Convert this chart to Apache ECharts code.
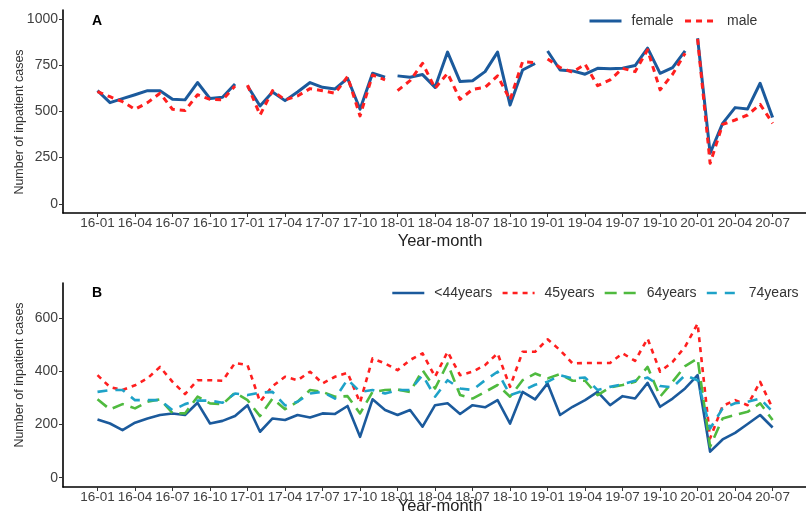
<!DOCTYPE html>
<html>
<head>
<meta charset="utf-8">
<script src="https://cdn.jsdelivr.net/npm/echarts@6/dist/echarts.min.js"></script>
<style>
  html, body { margin: 0; padding: 0; background: #fff; }
  #chart { width: 806px; height: 522px; }
</style>
</head>
<body>
<div id="chart"></div>
<script>
// Monthly inpatient cases, Jan 2016 – Jul 2020
const months = [
  '16-01','16-02','16-03','16-04','16-05','16-06','16-07','16-08','16-09','16-10','16-11','16-12',
  '17-01','17-02','17-03','17-04','17-05','17-06','17-07','17-08','17-09','17-10','17-11','17-12',
  '18-01','18-02','18-03','18-04','18-05','18-06','18-07','18-08','18-09','18-10','18-11','18-12',
  '19-01','19-02','19-03','19-04','19-05','19-06','19-07','19-08','19-09','19-10','19-11','19-12',
  '20-01','20-02','20-03','20-04','20-05','20-06','20-07'
];
// month indices that carry a tick label
const tickMonths = [0, 3, 6, 9, 12, 15, 18, 21, 24, 27, 30, 33, 36, 39, 42, 45, 48, 51, 54];

// Panel A: by sex
const female = [
  613, 548, 570, 591, 613, 613, 566, 563, 657, 570, 577, 649,
  638, 530, 606, 559, 606, 657, 631, 622, 680, 512, 707, 686,
  693, 686, 700, 631, 822, 662, 667, 716, 822, 535, 725, 760,
  828, 725, 720, 702, 734, 731, 734, 749, 843, 707, 738, 828,
  897, 274, 436, 521, 514, 653, 467
];
const male = [
  608, 580, 553, 512, 548, 599, 512, 505, 591, 566, 563, 638,
  643, 481, 613, 563, 584, 624, 613, 599, 689, 476, 698, 671,
  613, 667, 761, 626, 707, 566, 620, 631, 693, 563, 770, 765,
  785, 738, 713, 756, 640, 671, 734, 716, 834, 617, 702, 816,
  893, 219, 430, 454, 481, 539, 436
];

// Panel B: by age group
const age44 = [
  219, 204, 179, 207, 223, 236, 242, 236, 282, 204, 214, 232,
  273, 173, 223, 217, 236, 227, 242, 240, 270, 154, 295, 255,
  236, 255, 192, 273, 280, 240, 273, 265, 292, 204, 323, 295,
  355, 236, 267, 292, 323, 273, 307, 298, 357, 267, 298, 336,
  386, 98, 144, 169, 202, 236, 189
];
const age45 = [
  386, 341, 330, 348, 374, 417, 361, 315, 367, 367, 365, 432,
  424, 286, 345, 380, 367, 399, 355, 380, 395, 283, 449, 430,
  405, 443, 468, 380, 474, 386, 399, 424, 468, 342, 474, 474,
  521, 480, 430, 432, 432, 432, 468, 440, 524, 399, 436, 493,
  580, 148, 270, 292, 273, 361, 261
];
const age64 = [
  295, 257, 277, 261, 286, 295, 244, 242, 305, 280, 277, 320,
  292, 232, 298, 258, 286, 330, 323, 305, 307, 242, 323, 330,
  332, 323, 405, 336, 430, 311, 298, 323, 349, 305, 367, 392,
  374, 390, 365, 365, 311, 340, 349, 361, 417, 305, 361, 420,
  449, 117, 223, 236, 248, 280, 217
];
const age74 = [
  323, 330, 330, 292, 292, 292, 254, 277, 290, 290, 282, 317,
  311, 320, 323, 272, 286, 317, 323, 298, 370, 323, 330, 317,
  330, 330, 386, 305, 367, 336, 330, 367, 399, 311, 327, 350,
  361, 386, 374, 377, 330, 342, 352, 365, 377, 345, 340, 386,
  367, 185, 261, 280, 286, 298, 248
];

const yTicksA = [0, 250, 500, 750, 1000];
const yTicksB = [0, 200, 400, 600];

const FONT = '"Liberation Sans", Arial, sans-serif';
const BLUE = '#1b5a9c', RED = '#ff1f1f', GREEN = '#4fba3f', TEAL = '#1ea2c8';

// [monthIndex, value] pairs; optionally break the line between December and January
function points(values, splitYears) {
  const out = [];
  values.forEach((v, i) => {
    out.push([i, v]);
    if (splitYears && months[i].endsWith('-12') && i < values.length - 1) out.push([i + 0.5, '-']);
  });
  return out;
}

function xAxisFor(gridIndex) {
  return {
    type: 'value', gridIndex, min: -2.76, max: 56.67,
    axisLine: { show: true, onZero: false, lineStyle: { color: '#000', width: 1.6 } },
    axisTick: { show: true, length: 4, customValues: tickMonths, lineStyle: { color: '#333', width: 1 } },
    axisLabel: {
      customValues: tickMonths, formatter: v => months[Math.round(v)],
      color: '#404040', fontSize: 13.5, fontFamily: FONT, margin: 3
    },
    splitLine: { show: false }
  };
}
function yAxisFor(gridIndex, min, max, ticks) {
  return {
    type: 'value', gridIndex, min, max,
    axisLine: { show: true, onZero: false, lineStyle: { color: '#000', width: 1.6 } },
    axisTick: { show: true, length: 4, customValues: ticks, lineStyle: { color: '#333', width: 1 } },
    axisLabel: { customValues: ticks, formatter: v => String(v), color: '#404040', fontSize: 14, fontFamily: FONT, margin: 5 },
    splitLine: { show: false }
  };
}
function line(name, values, axisIdx, color, width, dash, split) {
  return {
    name, type: 'line', xAxisIndex: axisIdx, yAxisIndex: axisIdx,
    data: points(values, split), symbol: 'none', connectNulls: false,
    lineStyle: { color, width, type: dash, cap: 'butt', join: 'round' },
    itemStyle: { color }, animation: false
  };
}

const chart = echarts.init(document.getElementById('chart'), null, { renderer: 'canvas' });
const legendText = { color: '#333', fontSize: 14, fontFamily: FONT, padding: [0, 0, 0, 5] };
function legendFor(names, left, top, lineWidth, gap) {
  return {
    data: names, left, top,
    orient: 'horizontal', padding: 0, itemWidth: 32, itemHeight: 14, itemGap: gap,
    textStyle: legendText, itemStyle: { opacity: 0 }, lineStyle: { width: lineWidth }, width: 500
  };
}

chart.setOption({
  backgroundColor: '#fff',
  animation: false,
  grid: [
    { left: 63, top: 10, width: 753, height: 203 },
    { left: 63, top: 283, width: 753, height: 204 }
  ],
  xAxis: [xAxisFor(0), xAxisFor(1)],
  yAxis: [yAxisFor(0, -50, 1050, yTicksA), yAxisFor(1, -35, 733, yTicksB)],
  legend: [
    legendFor(['female', 'male'], 588, 14, 3, 10),
    legendFor(['<44years', '45years', '64years', '74years'], 391, 286, 2.6, 9)
  ],
  series: [
    line('female', female, 0, BLUE, 3, 'solid', true),
    line('male', male, 0, RED, 3, [6, 5], true),
    line('<44years', age44, 1, BLUE, 2.6, 'solid', false),
    line('45years', age45, 1, RED, 2.6, [5, 5], false),
    line('64years', age64, 1, GREEN, 2.6, [12, 7], false),
    line('74years', age74, 1, TEAL, 2.6, [10, 8], false)
  ],
  graphic: [
    { type: 'text', left: 92, top: 14, style: { text: 'A', font: 'bold 14px ' + FONT, fill: '#000' } },
    { type: 'text', left: 92, top: 286, style: { text: 'B', font: 'bold 14px ' + FONT, fill: '#000' } },
    { type: 'text', x: 20, y: 122, rotation: Math.PI / 2,
      style: { text: 'Number of inpatient cases', font: '12.5px ' + FONT, fill: '#333', align: 'center', verticalAlign: 'middle' } },
    { type: 'text', x: 20, y: 375, rotation: Math.PI / 2,
      style: { text: 'Number of inpatient cases', font: '12.5px ' + FONT, fill: '#333', align: 'center', verticalAlign: 'middle' } },
    { type: 'text', x: 440, y: 241,
      style: { text: 'Year-month', font: '16.5px ' + FONT, fill: '#222', align: 'center', verticalAlign: 'middle' } },
    { type: 'text', x: 440, y: 506,
      style: { text: 'Year-month', font: '16.5px ' + FONT, fill: '#222', align: 'center', verticalAlign: 'middle' } }
  ]
});
</script>
</body>
</html>
